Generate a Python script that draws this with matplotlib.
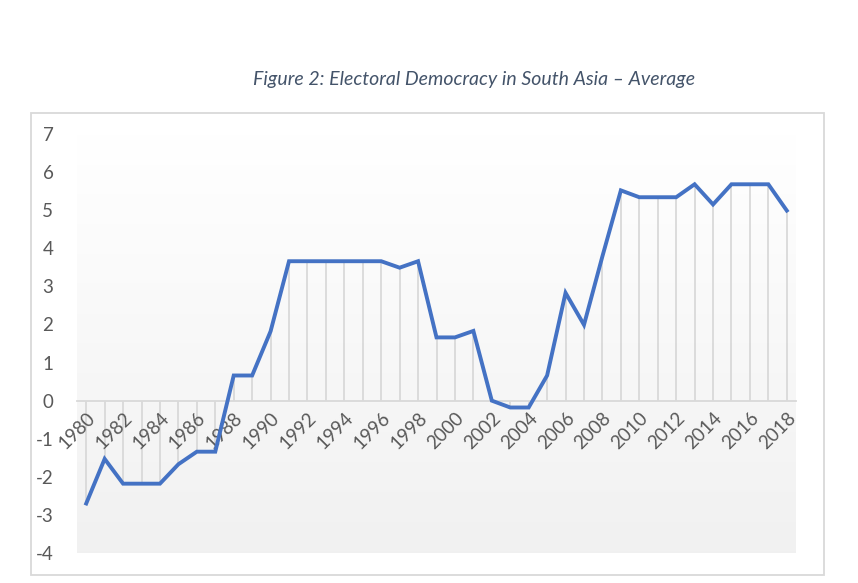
import matplotlib
matplotlib.use("Agg")
import matplotlib.pyplot as plt
import numpy as np
from matplotlib.patches import Rectangle

years = list(range(1980, 2019))
values = [-2.70, -1.53, -2.18, -2.18, -2.18, -1.67, -1.34, -1.34, 0.66, 0.66,
          1.82, 3.66, 3.66, 3.66, 3.66, 3.66, 3.66, 3.49, 3.66, 1.66,
          1.66, 1.83, 0.00, -0.18, -0.18, 0.66, 2.83, 1.99, 3.79, 5.52,
          5.34, 5.34, 5.34, 5.68, 5.15, 5.68, 5.68, 5.68, 4.99]
tick_labels = [str(y) if (y - 1980) % 2 == 0 else "" for y in years]
title = "Figure 2: Electoral Democracy in South Asia \u2013 Average"

plt.rcParams["font.family"] = ["Lato", "DejaVu Sans"]
plt.rcParams["axes.unicode_minus"] = False

fig = plt.figure(figsize=(8.58, 5.83), dpi=100)
fig.patch.set_facecolor("white")

# chart border
fig.patches.append(Rectangle((31 / 858, 1 - 575 / 583), (824 - 31) / 858, (575 - 113) / 583,
                             transform=fig.transFigure, fill=False,
                             edgecolor="#d9d9d9", linewidth=1.3))

fig.text(474 / 858, 1 - 80 / 583, title, ha="center", va="center", fontsize=14,
         style="italic", color="#44546a")

ax = fig.add_axes([77 / 858, 1 - 553 / 583, (796 - 77) / 858, (553 - 134) / 583])
x = np.arange(len(years))
ax.set_xlim(-0.5, len(years) - 0.5)
ax.set_ylim(-4, 7)

# gradient plot area
grad = np.linspace(1.0, 0.945, 256).reshape(-1, 1)
ax.imshow(np.dstack([grad, grad, grad]), extent=(-0.5, len(years) - 0.5, -4, 7),
          aspect="auto", zorder=0)

ax.vlines(x, 0, values, color="#d9d9d9", linewidth=1.3, zorder=1)
ax.plot(x, values, color="#4472c4", linewidth=2.8, zorder=3, solid_joinstyle="miter")

for s in ["top", "right", "left"]:
    ax.spines[s].set_visible(False)
ax.spines["bottom"].set_position(("data", 0))
ax.spines["bottom"].set_color("#d9d9d9")
ax.spines["bottom"].set_linewidth(1.3)
ax.spines["bottom"].set_zorder(2)

ax.set_xticks(x)
ax.set_xticklabels(tick_labels, rotation=45, ha="right", rotation_mode="anchor",
                   fontsize=13.5, color="#595959")
ax.tick_params(axis="x", length=0, pad=6)
ax.set_yticks(range(-4, 8))
ax.tick_params(axis="y", length=0, pad=17, labelsize=13.5, labelcolor="#595959")

fig.savefig("out.png", dpi=100)
